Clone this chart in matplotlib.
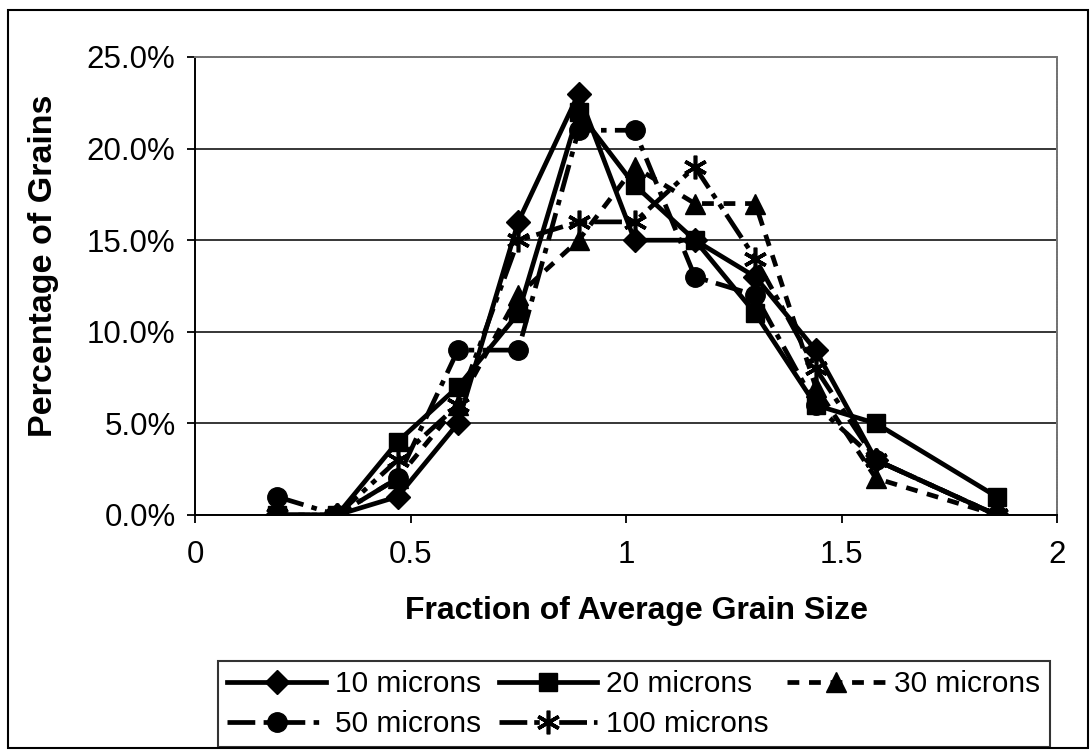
import matplotlib
matplotlib.use("Agg")
import matplotlib.pyplot as plt
from matplotlib.patches import Rectangle
from matplotlib.ticker import FuncFormatter

plt.rcParams['font.family'] = ['Liberation Sans', 'DejaVu Sans']
plt.rcParams['lines.scale_dashes'] = False

# Data (percent of grains vs fraction of average grain size)
x = [0.19, 0.33, 0.47, 0.61, 0.75, 0.89, 1.02, 1.16, 1.30, 1.44, 1.58, 1.86]
s10 = [0, 0, 1, 5, 16, 23, 15, 15, 13, 9, 3, 0]
s20 = [0, 0, 4, 7, 11, 22, 18, 15, 11, 6, 5, 1]
s30 = [0, 0, 2, 6, 12, 15, 19, 17, 17, 7, 2, 0]
s50 = [1, 0, 2, 9, 9, 21, 21, 13, 12, 6, 3, 0]
s100 = [0, 0, 3, 6, 15, 16, 16, 19, 14, 8, 3, 0]
labels = ['10 microns', '20 microns', '30 microns', '50 microns', '100 microns']
yticks = [0, 5, 10, 15, 20, 25]
xticks = [0, 0.5, 1, 1.5, 2]

W, H = 1091, 752
fig = plt.figure(figsize=(W / 100, H / 100), dpi=100)
ax = fig.add_axes([195 / W, 1 - 515 / H, (1057 - 195) / W, (515 - 57) / H])

lw = 3.4
styles = [
    dict(marker='D', ms=12, ls='-'),
    dict(marker='s', ms=13, ls='-'),
    dict(marker='^', ms=14, ls=(0, (8.5, 7))),
    dict(marker='o', ms=14, ls=(0, (20, 6, 4, 6))),
    dict(marker=(6, 2, 0), ms=17, mew=2.6, ls=(0, (20, 5, 4, 5, 4, 5))),
]
handles = []
for ys, lab, st in zip([s10, s20, s30, s50, s100], labels, styles):
    kw = dict(color='black', lw=lw, mfc='black', mec='black')
    kw.update(st)
    h, = ax.plot(x, ys, label=lab, **kw)
    handles.append(h)

ax.set_xlim(0, 2)
ax.set_ylim(0, 25)
ax.set_xticks(xticks)
ax.set_yticks(yticks)
ax.xaxis.set_major_formatter(FuncFormatter(lambda v, p: f"{v:g}"))
ax.yaxis.set_major_formatter(FuncFormatter(lambda v, p: f"{v:.1f}%"))
ax.tick_params(axis='both', direction='out', length=6, width=1.3, labelsize=22.5,
               colors='black')
ax.tick_params(axis='y', pad=8)
ax.tick_params(axis='x', pad=12)
ax.grid(axis='y', color='black', lw=1.1)
ax.set_axisbelow(True)
for side in ['left', 'bottom']:
    ax.spines[side].set_color('black')
    ax.spines[side].set_linewidth(1.4)
for side in ['top', 'right']:
    ax.spines[side].set_color('0.45')
    ax.spines[side].set_linewidth(1.4)
    ax.spines[side].set_linestyle((0, (1, 1)))

ax.set_ylabel('Percentage of Grains', fontsize=24.5, fontweight='bold')
ax.yaxis.set_label_coords(-0.158, 0.544)
ax.set_xlabel('Fraction of Average Grain Size', fontsize=23, fontweight='bold')
ax.xaxis.set_label_coords(0.512, -0.176)

order = [0, 3, 1, 4, 2]
leg = fig.legend([handles[i] for i in order], [labels[i] for i in order],
                 loc='center', bbox_to_anchor=(634 / W, 1 - 704 / H),
                 bbox_transform=fig.transFigure, ncol=3, fontsize=21.5,
                 numpoints=1, handlelength=3.3, handletextpad=0.3,
                 columnspacing=0.6, labelspacing=0.4, borderpad=0.3,
                 borderaxespad=0, fancybox=False, frameon=True)
leg.get_frame().set_edgecolor('black')
leg.get_frame().set_linewidth(1.5)

fig.patches.append(Rectangle((8 / W, 1 - 748 / H), (1088 - 8) / W, (748 - 10) / H,
                             transform=fig.transFigure, fill=False,
                             edgecolor='black', lw=1.5))

fig.savefig('out.png', dpi=100, facecolor='white')
